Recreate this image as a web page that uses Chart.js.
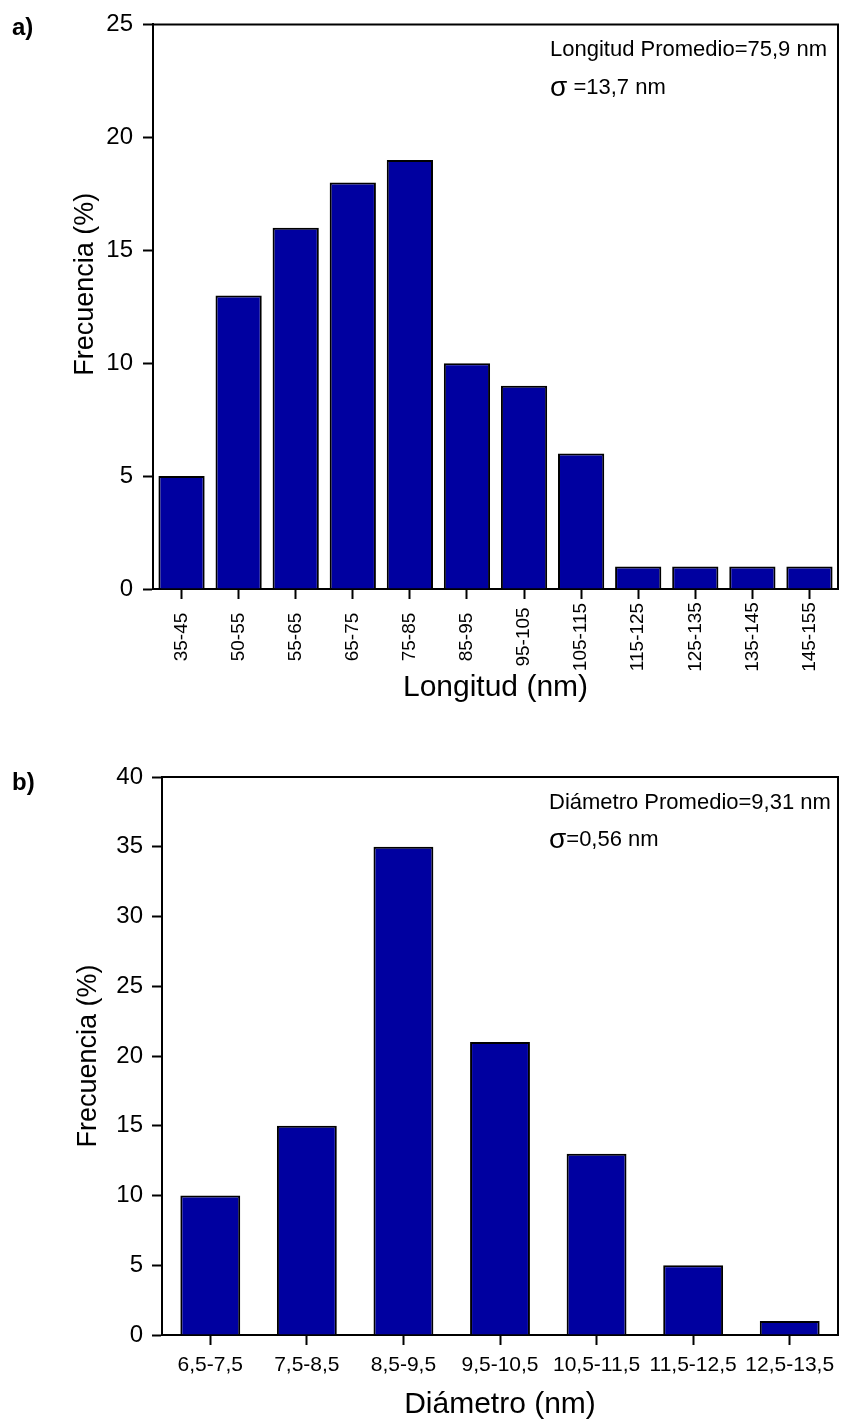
<!DOCTYPE html>
<html>
<head>
<meta charset="utf-8">
<script src="https://cdn.jsdelivr.net/npm/chart.js@4.4.0/dist/chart.umd.min.js"></script>
<style>
  body { margin: 0; background: #fff; }
  canvas { position: absolute; left: 0; }
  #chartA { top: 0; }
  #chartB { top: 750px; }
</style>
</head>
<body>
<canvas id="chartA" width="845" height="712"></canvas>
<canvas id="chartB" width="845" height="675"></canvas>
<script>
// datos del histograma a) longitud
const longitudLabels = ['35-45', '50-55', '55-65', '65-75', '75-85', '85-95', '95-105', '105-115', '115-125', '125-135', '135-145', '145-155'];
const longitudFrecuencia = [5, 13, 16, 18, 19, 10, 9, 6, 1, 1, 1, 1];

// datos del histograma b) diametro
const diametroLabels = ['6,5-7,5', '7,5-8,5', '8,5-9,5', '9,5-10,5', '10,5-11,5', '11,5-12,5', '12,5-13,5'];
const diametroFrecuencia = [10, 15, 35, 21, 13, 5, 1];

const FONT = "'Liberation Sans', Arial, sans-serif";
const BAR_COLOR = 'rgb(0,0,160)';

// marco + textos sobre el grafico
function framePlugin(letter, line1, line2, textX, y1, y2, letterY, rotLabelsY) {
  return {
    id: 'frame' + letter,
    afterDraw(chart) {
      const ctx = chart.ctx;
      const a = chart.chartArea;
      ctx.save();
      ctx.strokeStyle = 'black';
      ctx.lineWidth = 2;
      ctx.beginPath();
      ctx.moveTo(a.left, a.top);
      ctx.lineTo(a.right, a.top);
      ctx.lineTo(a.right, a.bottom);
      ctx.stroke();

      ctx.fillStyle = 'black';
      ctx.textBaseline = 'middle';
      ctx.textAlign = 'left';
      ctx.font = 'bold 24px ' + FONT;
      ctx.fillText(letter, 12, letterY);

      ctx.font = '22px ' + FONT;
      ctx.fillText(line1, textX, y1);
      ctx.font = '28px ' + FONT;
      ctx.fillText('σ', textX, y2);
      const w = ctx.measureText('σ').width;
      ctx.font = '22px ' + FONT;
      ctx.fillText(line2, textX + w, y2);

      // etiquetas verticales del eje x, centradas
      if (rotLabelsY) {
        const xs = chart.scales.x;
        ctx.font = '19px ' + FONT;
        ctx.textAlign = 'center';
        xs.ticks.forEach((t, i) => {
          ctx.save();
          ctx.translate(xs.getPixelForTick(i), rotLabelsY);
          ctx.rotate(-Math.PI / 2);
          ctx.fillText(chart.data.labels[i], 0, 0);
          ctx.restore();
        });
      }
      ctx.restore();
    }
  };
}

function makeChart(id, labels, values, opts) {
  const ctx = document.getElementById(id).getContext('2d');
  return new Chart(ctx, {
    type: 'bar',
    data: {
      labels: labels,
      datasets: [{
        data: values,
        backgroundColor: BAR_COLOR,
        borderColor: 'black',
        borderWidth: 2,
        barPercentage: opts.barPct,
        categoryPercentage: 1
      }]
    },
    options: {
      responsive: false,
      animation: false,
      devicePixelRatio: 1,
      layout: { padding: { top: opts.padTop, right: 7, left: 0, bottom: 0 } },
      plugins: { legend: { display: false }, tooltip: { enabled: false } },
      scales: {
        x: {
          grid: { drawOnChartArea: false, drawTicks: true, tickLength: 10, tickColor: 'black', tickWidth: 2, offset: false },
          border: { color: 'black', width: 2 },
          ticks: {
            display: opts.xTicks,
            autoSkip: false,
            maxRotation: 0, minRotation: 0,
            color: 'black',
            padding: opts.xPad,
            font: { family: FONT, size: 21 }
          },
          title: {
            display: true, text: opts.xTitle, color: 'black',
            font: { family: FONT, size: 30 },
            padding: { top: 0, bottom: opts.xTitlePad }
          },
          afterFit(scale) { scale.height = opts.xHeight; }
        },
        y: {
          min: 0, max: opts.yMax,
          grid: { drawOnChartArea: false, drawTicks: true, tickLength: 10, tickColor: 'black', tickWidth: 2 },
          border: { color: 'black', width: 2 },
          ticks: { stepSize: 5, color: 'black', padding: opts.yPad, font: { family: FONT, size: 24 } },
          title: {
            display: true, text: opts.yTitle, color: 'black',
            font: { family: FONT, size: 27 },
            padding: { top: opts.yTitlePad, bottom: 0 }
          },
          afterFit(scale) { scale.width = opts.yWidth; }
        }
      }
    },
    plugins: [opts.plugin]
  });
}

makeChart('chartA', longitudLabels, longitudFrecuencia, {
  barPct: 0.81, padTop: 23, xTicks: false, xPad: 4,
  xTitle: 'Longitud (nm)', xTitlePad: 6, xHeight: 123,
  yMax: 25, yPad: 10, yTitle: '      Frecuencia (%)', yTitlePad: 69, yWidth: 153,
  plugin: framePlugin('a)', 'Longitud Promedio=75,9 nm', ' =13,7 nm', 550, 50, 88, 28, 637)
});

makeChart('chartB', diametroLabels, diametroFrecuencia, {
  barPct: 0.62, padTop: 27, xTicks: true, xPad: 8,
  xTitle: 'Diámetro (nm)', xTitlePad: 2, xHeight: 90,
  yMax: 40, yPad: 9, yTitle: 'Frecuencia (%)', yTitlePad: 72, yWidth: 162,
  plugin: framePlugin('b)', 'Diámetro Promedio=9,31 nm', '=0,56 nm', 549, 53, 90, 33, 0)
});
</script>
</body>
</html>
